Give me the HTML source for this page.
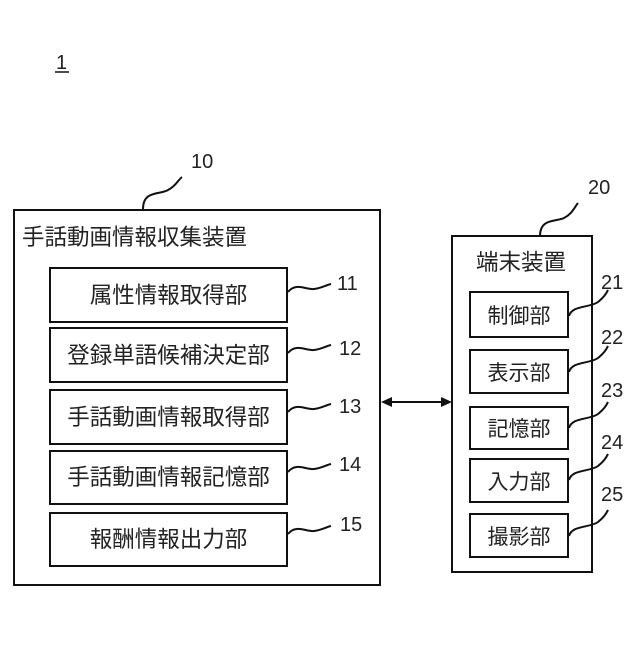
<!DOCTYPE html>
<html><head><meta charset="utf-8"><style>
body{margin:0;background:#fff}
svg text{font-family:"Liberation Sans","Noto Sans CJK JP",sans-serif;fill:#222}
</style></head><body>
<svg width="640" height="640" viewBox="0 0 640 640" xmlns="http://www.w3.org/2000/svg">
<g fill="none" stroke="#111" stroke-width="2">
<rect x="14" y="210" width="366" height="375"/>
<rect x="50" y="268" width="237" height="54"/>
<rect x="50" y="328" width="237" height="54"/>
<rect x="50" y="390" width="237" height="54"/>
<rect x="50" y="451" width="237" height="53"/>
<rect x="50" y="513" width="237" height="53"/>
<rect x="452" y="236" width="140" height="336"/>
<rect x="470" y="292" width="98" height="45"/>
<rect x="470" y="350" width="98" height="43"/>
<rect x="470" y="407" width="98" height="42"/>
<rect x="470" y="459" width="98" height="43"/>
<rect x="470" y="514" width="98" height="43"/>
<path d="M143 209 C143 190,160 195,168 190 C176 186,178 180,182 177"/>
<path d="M540 236 C540 218,556 222,564 218 C572 214,574 208,578 203"/>
<path d="M288 292 C296 282,306 290,314 289 C322 288,326 285,331 284"/>
<path d="M288 353 C296 343,306 351,314 350 C322 349,326 346,331 345"/>
<path d="M288 412 C296 402,306 410,314 409 C322 408,326 405,331 404"/>
<path d="M288 472 C296 462,306 470,314 469 C322 468,326 465,331 464"/>
<path d="M288 534 C296 524,306 532,314 531 C322 530,326 527,331 526"/>
<path d="M569 316 C572 305,590 308,598 302 C604 297,606 294,608 290"/>
<path d="M569 372 C572 361,590 364,598 358 C604 353,606 350,608 346"/>
<path d="M569 428 C572 417,590 420,598 414 C604 409,606 406,608 402"/>
<path d="M569 480 C572 469,590 472,598 466 C604 461,606 458,608 454"/>
<path d="M569 536 C572 525,590 528,598 522 C604 517,606 514,608 510"/>
<line x1="390" y1="402" x2="443" y2="402"/>
<line x1="55" y1="72" x2="69" y2="72" stroke-width="1.5"/>
</g>
<path d="M381 402 L392 397 L392 407Z M452 402 L441 397 L441 407Z" fill="#111"/>
<g font-size="20">
<text x="56" y="69">1</text>
<text x="191" y="168">10</text>
<text x="588" y="194">20</text>
<text x="337" y="290">11</text>
<text x="339" y="355">12</text>
<text x="339" y="413">13</text>
<text x="339" y="471">14</text>
<text x="340" y="531">15</text>
<text x="601" y="289">21</text>
<text x="601" y="344">22</text>
<text x="601" y="397">23</text>
<text x="601" y="449">24</text>
<text x="601" y="501">25</text>
</g>
<g font-size="22.5">
<text x="22" y="245">手話動画情報収集装置</text>
<text x="168.5" y="303" text-anchor="middle">属性情報取得部</text>
<text x="168.5" y="363" text-anchor="middle">登録単語候補決定部</text>
<text x="168.5" y="425" text-anchor="middle">手話動画情報取得部</text>
<text x="168.5" y="485" text-anchor="middle">手話動画情報記憶部</text>
<text x="168.5" y="547" text-anchor="middle">報酬情報出力部</text>
<text x="476" y="270">端末装置</text>
<text x="519" y="323" text-anchor="middle" font-size="21">制御部</text>
<text x="519" y="380" text-anchor="middle" font-size="21">表示部</text>
<text x="519" y="436" text-anchor="middle" font-size="21">記憶部</text>
<text x="519" y="489" text-anchor="middle" font-size="21">入力部</text>
<text x="519" y="544" text-anchor="middle" font-size="21">撮影部</text>
</g>
</svg>
</body></html>
